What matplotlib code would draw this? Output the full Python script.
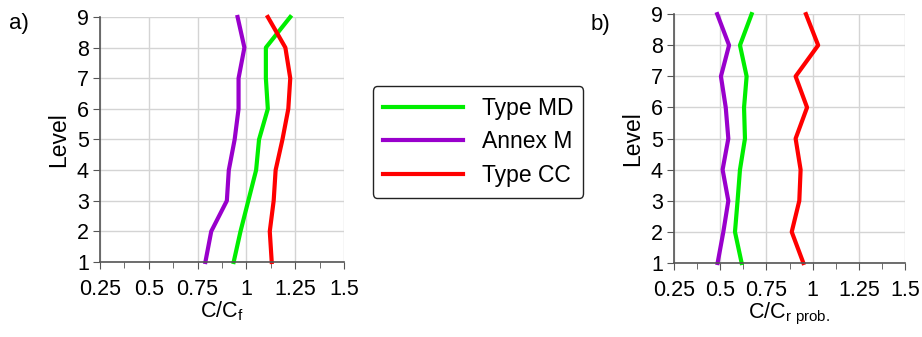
import numpy as np
from matplotlib import pyplot as plt
from matplotlib.ticker import MultipleLocator

plt.rcParams['font.family'] = ['Liberation Sans', 'DejaVu Sans']

levels = [1, 2, 3, 4, 5, 6, 7, 8, 9]

# panel a) C/Cf
md_a = [0.935, 0.97, 1.01, 1.05, 1.065, 1.11, 1.10, 1.10, 1.225]
annex_a = [0.79, 0.82, 0.90, 0.91, 0.94, 0.96, 0.96, 0.99, 0.955]
cc_a = [1.13, 1.12, 1.14, 1.15, 1.185, 1.215, 1.225, 1.20, 1.11]

# panel b) C/Cr prob.
md_b = [0.616, 0.58, 0.594, 0.607, 0.634, 0.629, 0.643, 0.607, 0.67]
annex_b = [0.486, 0.517, 0.544, 0.513, 0.544, 0.53, 0.504, 0.548, 0.484]
cc_b = [0.95, 0.887, 0.928, 0.935, 0.908, 0.97, 0.908, 1.03, 0.964]

xticks = [0.25, 0.5, 0.75, 1, 1.25, 1.5]
xticklabels = ["0.25", "0.5", "0.75", "1", "1.25", "1.5"]

GREEN = "#00ee00"
PURPLE = "#9900cc"
RED = "#ff0000"


def style_axis(ax, xlabel):
    ax.set_xlim(0.25, 1.5)
    ax.set_ylim(1, 9)
    ax.set_xticks(xticks)
    ax.set_xticklabels(xticklabels)
    ax.set_yticks(levels)
    ax.xaxis.set_minor_locator(MultipleLocator(0.125))
    ax.grid(True, which="major", color="#d4d4d4", lw=1)
    ax.set_axisbelow(True)
    for s in ["top", "right"]:
        ax.spines[s].set_visible(False)
    for s in ["left", "bottom"]:
        ax.spines[s].set_color("#555555")
        ax.spines[s].set_linewidth(1.2)
    ax.tick_params(which="both", direction="out", color="#555555", labelsize=15.5)
    ax.tick_params(axis="x", pad=7)
    ax.tick_params(axis="y", pad=3)
    ax.tick_params(which="major", length=5)
    ax.tick_params(which="minor", length=4)
    ax.set_xlabel(xlabel, fontsize=15.5, labelpad=0)
    ax.set_ylabel("Level", fontsize=16.5, labelpad=5)


fig = plt.figure(figsize=(9.22, 3.37), dpi=100)
ax1 = fig.add_axes([0.1085, 0.2226, 0.2645, 0.727])
ax2 = fig.add_axes([0.731, 0.2196, 0.2506, 0.7384])

for ax, md, annex, cc in [(ax1, md_a, annex_a, cc_a), (ax2, md_b, annex_b, cc_b)]:
    ax.plot(md, levels, color=GREEN, lw=3, label="Type MD", clip_on=False)
    ax.plot(annex, levels, color=PURPLE, lw=3, label="Annex M", clip_on=False)
    ax.plot(cc, levels, color=RED, lw=3, label="Type CC", clip_on=False)

style_axis(ax1, r"C/C$_\mathregular{f}$")
style_axis(ax2, r"C/C$_\mathregular{r\ prob.}$")

fig.text(0.010, 0.915, "a)", fontsize=16)
fig.text(0.641, 0.91, "b)", fontsize=16)

handles, labels = ax1.get_legend_handles_labels()
leg = fig.legend(handles, labels, loc="center", bbox_to_anchor=(478 / 922, 1 - 142 / 337),
                 fontsize=16.5, frameon=True, fancybox=True, handlelength=3.5,
                 handletextpad=0.8, borderpad=0.45, labelspacing=0.47, borderaxespad=0)
leg.get_frame().set_edgecolor("#222222")
leg.get_frame().set_linewidth(1.0)
leg.get_frame().set_alpha(1)

fig.savefig("out.png", dpi=100)
